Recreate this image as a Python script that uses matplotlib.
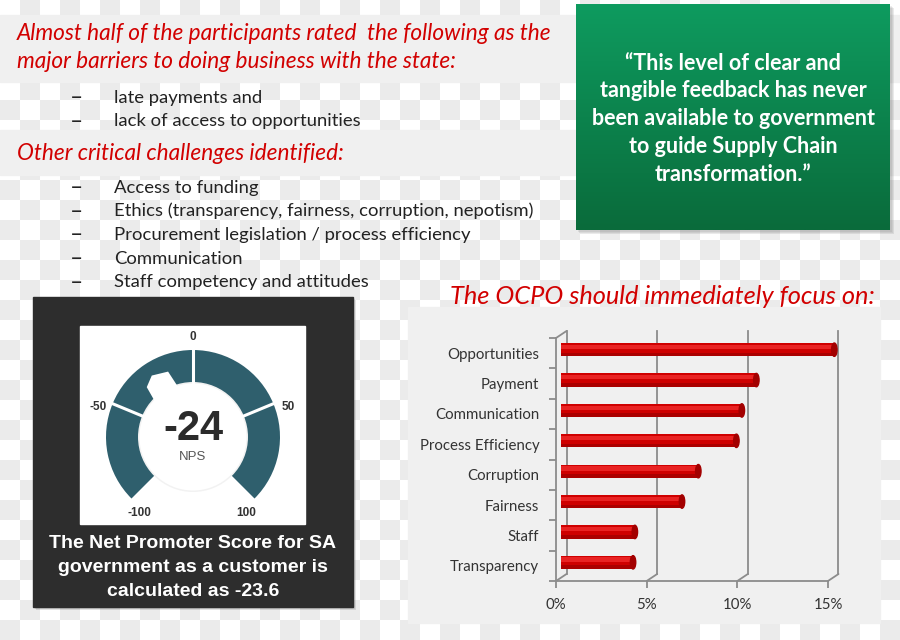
import matplotlib

matplotlib.use("Agg")

import matplotlib.pyplot as plt
import numpy as np
from matplotlib.colors import LinearSegmentedColormap, ListedColormap
from matplotlib.patches import Circle, Ellipse, Polygon, Rectangle, Wedge
from matplotlib.transforms import ScaledTranslation

# ---- data -------------------------------------------------------------
headline = [
    "Almost half of the participants rated  the following as the",
    "major barriers to doing business with the state:",
]
barriers = ["late payments and", "lack of access to opportunities"]
challenges_title = "Other critical challenges identified:"
challenges = [
    "Access to funding",
    "Ethics (transparency, fairness, corruption, nepotism)",
    "Procurement legislation / process efficiency",
    "Communication",
    "Staff competency and attitudes",
]
quote_lines = [
    "\u201cThis level of clear and",
    "tangible feedback has never",
    "been available to government",
    "to guide Supply Chain",
    "transformation.\u201d",
]
focus_title = "The OCPO should immediately focus on:"
focus_labels = [
    "Opportunities",
    "Payment",
    "Communication",
    "Process Efficiency",
    "Corruption",
    "Fairness",
    "Staff",
    "Transparency",
]
focus_values = [15.1, 10.8, 10.0, 9.7, 7.6, 6.7, 4.1, 4.0]
focus_ticks = [0, 5, 10, 15]

nps_score = -23.6
nps_bounds = [-100, -50, 0, 50, 100]
nps_caption = [
    "The Net Promoter Score for SA",
    "government as a customer is",
    "calculated as -23.6",
]

RED = "#d20000"
TEAL = "#2f5f6d"
GREY = "#8c8c8c"
W, H = 900, 640

fig = plt.figure(figsize=(W / 100, H / 100), dpi=100)

# ---- background in pixel coordinates ------------------------------------
bg = fig.add_axes([0, 0, 1, 1])
bg.axis("off")
yy, xx = np.indices((H // 20, W // 20))
bg.imshow((xx + yy) % 2, cmap=ListedColormap(["#ffffff", "#ebebeb"]),
          extent=(0, W, H, 0), interpolation="nearest", aspect="auto", zorder=0)
for y0, h in [(15, 67), (130, 45)]:
    bg.add_patch(Rectangle((0, y0), W, h, color="#f0f0f0", zorder=1))

text_font = ["Lato", "DejaVu Sans"]
for i, line in enumerate(headline):
    bg.text(17, 34 + 28 * i, line, color=RED, fontsize=16.3, style="italic",
            family=text_font, va="center", zorder=3)
bg.text(17, 154, challenges_title, color=RED, fontsize=16.3, style="italic",
        family=text_font, va="center", zorder=3)

bullet_rows = [(97, barriers), (187, challenges)]
for y0, items in bullet_rows:
    for i, item in enumerate(items):
        y = y0 + 23.7 * i
        bg.text(77, y, "\u2013", color="#222222", fontsize=16, family="DejaVu Sans",
                va="center", ha="center", zorder=3)
        bg.text(114, y + 0.5, item, color="#222222", fontsize=13.3, family=text_font,
                va="center", zorder=3)

# green quote box
for k, a in enumerate([0.10, 0.10, 0.12]):
    bg.add_patch(Rectangle((576 + 2 + k, 4 + 2 + k), 314, 226, color="#555555",
                           alpha=a, lw=0, zorder=2))
green = LinearSegmentedColormap.from_list("green", ["#0e9b5f", "#0a6b3b"])
bg.imshow(np.linspace(0, 1, 200).reshape(-1, 1), cmap=green,
          extent=(576, 890, 230, 4), aspect="auto", zorder=3)
for i, line in enumerate(quote_lines):
    bg.text(733, 63 + 27.8 * i, line, color="white", fontsize=15.5,
            fontweight="bold", family=text_font, ha="center", va="center", zorder=4)

# bar chart panel and title
bg.add_patch(Rectangle((408, 307), 472, 316, color="#f0f0f0", zorder=2))
bg.text(450, 296, focus_title, color=RED, fontsize=18.3, style="italic",
        family=text_font, va="center", zorder=3)

# dark NPS panel
for k, a in enumerate([0.12, 0.12, 0.15]):
    bg.add_patch(Rectangle((33 + 1 + k, 297 + 1 + k), 320, 310, color="#444444",
                           alpha=a, lw=0, zorder=2))
bg.add_patch(Rectangle((33, 297), 320, 310, color="#2d2d2d", zorder=3))
bg.add_patch(Rectangle((80, 326), 225, 198, color="white", zorder=4))
for i, line in enumerate(nps_caption):
    bg.text(193, 543 + 24 * i, line, color="white", fontsize=14,
            fontweight="bold", family=["Liberation Sans", "DejaVu Sans"],
            ha="center", va="center", zorder=5)

bg.set_xlim(0, W)
bg.set_ylim(H, 0)

# ---- NPS gauge ---------------------------------------------------------
gx, gy, gr = 193, 437, 110
gauge = fig.add_axes([(gx - gr) / W, 1 - (gy + gr) / H, 2 * gr / W, 2 * gr / H])
gauge.set_xlim(-1.1, 1.1)
gauge.set_ylim(-1.1, 1.1)
gauge.axis("off")


def angle(v):
    return 90 - v * 1.35


r_out, r_in = 0.87, 0.54
for lo, hi in zip(nps_bounds[:-1], nps_bounds[1:]):
    gauge.add_patch(Wedge((0, 0), r_out, angle(hi), angle(lo), width=r_out - r_in,
                          color=TEAL, lw=0))
for v in nps_bounds[1:-1]:
    t = np.radians(angle(v))
    gauge.plot([0.5 * np.cos(t), 0.92 * np.cos(t)], [0.5 * np.sin(t), 0.92 * np.sin(t)],
               color="white", lw=2.2, solid_capstyle="butt")

gauge.add_patch(Circle((0, 0), r_in + 0.01, color="#f2f2f2", lw=0))
gauge.add_patch(Circle((0, 0), r_in - 0.005, color="white", lw=0))

a = angle(nps_score)
pts = []
for r, da in [(0.45, -18), (0.70, -11), (0.74, 2), (0.68, 11), (0.45, 18)]:
    t = np.radians(a + da)
    pts.append((r * np.cos(t), r * np.sin(t)))
gauge.add_patch(Polygon(pts, closed=True, color="white", lw=0))

for v in nps_bounds:
    r = 0.93 if abs(v) == 100 else 1.0
    t = np.radians(90 - v * 1.45)
    gauge.text(r * np.cos(t), r * np.sin(t), f"{v}", fontsize=8.5, fontweight="bold",
               color="#333333", family=["Liberation Sans", "DejaVu Sans"],
               ha="center", va="center")
gauge.text(0, 0.08, f"{round(nps_score)}", fontsize=30, fontweight="bold",
           color="#2b2b2b", family=["Liberation Sans", "DejaVu Sans"],
           ha="center", va="center")
gauge.text(0, -0.2, "NPS", fontsize=9.5, color="#555555",
           family=["Liberation Sans", "DejaVu Sans"], ha="center", va="center")

# ---- focus bar chart ---------------------------------------------------
x0, x1, y0, y1 = 556, 828, 338, 581
ax = fig.add_axes([x0 / W, 1 - y1 / H, (x1 - x0) / W, (y1 - y0) / H])
ax.patch.set_visible(False)
ax.set_xlim(0, 15)
ax.set_ylim(len(focus_labels) - 0.5, -0.5)

back = ax.transData + ScaledTranslation(10.5 / 100, 7 / 100, fig.dpi_scale_trans)
mid = ax.transData + ScaledTranslation(4.5 / 100, 3.5 / 100, fig.dpi_scale_trans)

for t in focus_ticks:
    ax.plot([t, t], [len(focus_labels) - 0.5, -0.5], color=GREY, lw=1.3,
            transform=back, clip_on=False)
    ax.annotate("", xy=(t, len(focus_labels) - 0.5), xytext=(10.5, 7),
                textcoords="offset pixels",
                arrowprops=dict(arrowstyle="-", color=GREY, lw=1.3, shrinkA=0, shrinkB=0))
ax.annotate("", xy=(0, -0.5), xytext=(10.5, 7), textcoords="offset pixels",
            arrowprops=dict(arrowstyle="-", color=GREY, lw=1.3, shrinkA=0, shrinkB=0))

ypos = np.arange(len(focus_labels))
bh = 0.44
ax.barh(ypos, focus_values, height=bh, color="#cf0000", transform=mid, zorder=3,
        clip_on=False)
ax.barh(ypos - 0.09, focus_values, height=0.14, color="#ff4040", alpha=0.55,
        lw=0, transform=mid, zorder=4, clip_on=False)
ax.barh(ypos + 0.16, focus_values, height=0.12, color="#8f0000", alpha=0.55,
        lw=0, transform=mid, zorder=4, clip_on=False)
for yv, v in zip(ypos, focus_values):
    ax.add_patch(Ellipse((v, yv), 0.3, bh, color="#a30000", transform=mid, zorder=5,
                         clip_on=False))

for side in ["top", "right"]:
    ax.spines[side].set_visible(False)
for side in ["left", "bottom"]:
    ax.spines[side].set_color(GREY)
    ax.spines[side].set_linewidth(1.3)
ax.set_xticks(focus_ticks)
ax.set_xticklabels([f"{t}%" for t in focus_ticks])
ax.set_yticks(ypos)
ax.set_yticklabels(focus_labels)
ax.set_yticks(np.arange(-0.5, len(focus_labels)), minor=True)
ax.tick_params(axis="y", which="major", length=0, pad=12)
ax.tick_params(axis="y", which="minor", length=5, color=GREY, width=1.3)
ax.tick_params(axis="x", length=5, color=GREY, width=1.3, pad=7)
for lab in ax.get_yticklabels() + ax.get_xticklabels():
    lab.set_family(text_font)
    lab.set_fontsize(10.8)
    lab.set_color("#333333")

fig.savefig("out.png", dpi=100)
